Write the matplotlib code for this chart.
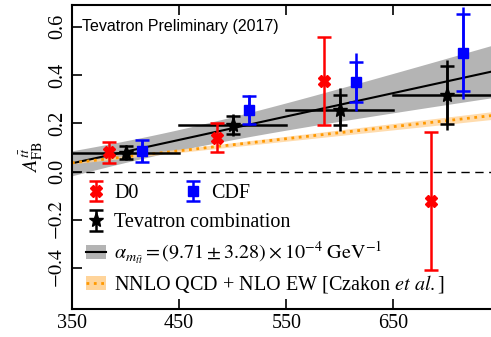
import numpy as np
import matplotlib
matplotlib.use("Agg")
import matplotlib.pyplot as plt
from matplotlib.patches import Patch
from matplotlib.lines import Line2D

plt.rcParams['font.family'] = 'serif'
plt.rcParams['font.serif'] = ['Liberation Serif', 'DejaVu Serif']
plt.rcParams['mathtext.fontset'] = 'stix'

# Mass bins (GeV)
bin_edges = [350, 450, 550, 650, 760]

# Tevatron combination
comb_m = [400, 500, 600, 700]
comb_a = [0.078, 0.193, 0.256, 0.317]
comb_stat = [0.028, 0.038, 0.063, 0.120]
comb_tot = [0.032, 0.044, 0.089, 0.144]

# D0
d0_m = [385, 485, 585, 685]
d0_a = [0.080, 0.140, 0.376, -0.122]
d0_err = [0.044, 0.060, 0.182, 0.286]

# CDF
cdf_m = [415, 515, 615, 715]
cdf_a = [0.085, 0.255, 0.370, 0.492]
cdf_stat = [0.045, 0.060, 0.083, 0.160]
cdf_tot = [0.047, 0.063, 0.120, 0.190]

# linear fit A = alpha * (m - m0)
alpha_fit = 9.71e-4
alpha_err = 3.28e-4
fit_m0 = 315.0
fit_pivot = 438.0
fit_const_err = 0.043

# NNLO QCD + NLO EW prediction
nnlo_a350 = 0.036
nnlo_slope = 5.0e-4
nnlo_err350 = 0.004
nnlo_err740 = 0.016

fig = plt.figure(figsize=(4.91, 3.37), dpi=100)
ax = fig.add_axes([0.1466, 0.083, 0.8534, 0.902])

m = np.linspace(350, 760, 200)
fit = alpha_fit * (m - fit_m0)
hw = np.sqrt(fit_const_err**2 + (alpha_err * (m - fit_pivot))**2)
ax.fill_between(m, fit - hw, fit + hw, color='#b4b4b4', lw=0, zorder=1)
ax.plot(m, fit, color='black', lw=1.5, zorder=2)

nnlo = nnlo_a350 + nnlo_slope * (m - 350)
nw = nnlo_err350 + (nnlo_err740 - nnlo_err350) * (m - 350) / 390
ax.fill_between(m, nnlo - nw, nnlo + nw, color='#ffd49a', alpha=0.8, lw=0, zorder=1)
ax.plot(m, nnlo, color='#ff9900', lw=2, ls=':', zorder=2)

ax.axhline(0, color='black', lw=1, ls=(0, (6, 4)), zorder=1)

# combination: bin widths, total and stat errors
for lo, hi, a in zip(bin_edges[:-1], bin_edges[1:], comb_a):
    ax.plot([lo, hi], [a, a], color='black', lw=1.8, zorder=3)
ax.errorbar(comb_m, comb_a, yerr=comb_tot, fmt='none', ecolor='black',
            elinewidth=1.8, capsize=0, zorder=4)
h_comb = ax.errorbar(comb_m, comb_a, yerr=comb_stat, fmt='*', color='black',
                     ms=11, elinewidth=1.8, capsize=5, capthick=1.8, zorder=5)

h_d0 = ax.errorbar(d0_m, d0_a, yerr=d0_err, fmt='X', color='red', ms=8,
                   elinewidth=1.8, capsize=5, capthick=1.8, zorder=5)

ax.errorbar(cdf_m, cdf_a, yerr=cdf_tot, fmt='none', ecolor='blue',
            elinewidth=1.8, capsize=0, zorder=4)
h_cdf = ax.errorbar(cdf_m, cdf_a, yerr=cdf_stat, fmt='s', color='blue', ms=7,
                    elinewidth=1.8, capsize=5, capthick=1.8, zorder=5)

ax.set_xlim(350, 741)
ax.set_ylim(-0.57, 0.69)
ax.set_xticks([350, 450, 550, 650])
ax.set_yticks([-0.4, -0.2, 0.0, 0.2, 0.4, 0.6])
ax.set_yticklabels(['$-0.4$', '$-0.2$', '0.0', '0.2', '0.4', '0.6'],
                   rotation=90, va='center')
ax.tick_params(direction='in', length=7, width=1.2, labelsize=14.5,
               top=True, right=False)
ax.spines['right'].set_visible(False)
for s in ['left', 'top', 'bottom']:
    ax.spines[s].set_linewidth(1.5)
ax.set_ylabel(r'$A_{\mathrm{FB}}^{t\bar{t}}$', fontsize=14.5, labelpad=2)

ax.text(0.025, 0.93, 'Tevatron Preliminary (2017)', transform=ax.transAxes,
        family='Liberation Sans', fontsize=11.5, va='center')

leg1 = ax.legend([h_d0, h_cdf], ['D0', 'CDF'], ncol=2, loc='upper left',
                 bbox_to_anchor=(0.0, 0.458), frameon=False, fontsize=14.5,
                 handlelength=1.0, handletextpad=0.4, columnspacing=2.2,
                 borderaxespad=0.3)
ax.add_artist(leg1)

band_h = (Patch(color='#b4b4b4', lw=0), Line2D([], [], color='black', lw=1.5))
nnlo_h = (Patch(color='#ffd49a', lw=0), Line2D([], [], color='#ff9900', lw=2, ls=':'))
ax.legend([h_comb, band_h, nnlo_h],
          ['Tevatron combination',
           r'$\alpha_{m_{t\bar{t}}} = (9.71 \pm 3.28) \times 10^{-4}\ \mathrm{GeV}^{-1}$',
           r'NNLO QCD + NLO EW [Czakon $\mathit{et\ al.}$]'],
          loc='upper left', bbox_to_anchor=(0.0, 0.361), frameon=False,
          fontsize=14.5, handlelength=1.0, handletextpad=0.4, labelspacing=0.35,
          borderaxespad=0.3)

fig.savefig('out.png', dpi=100)
